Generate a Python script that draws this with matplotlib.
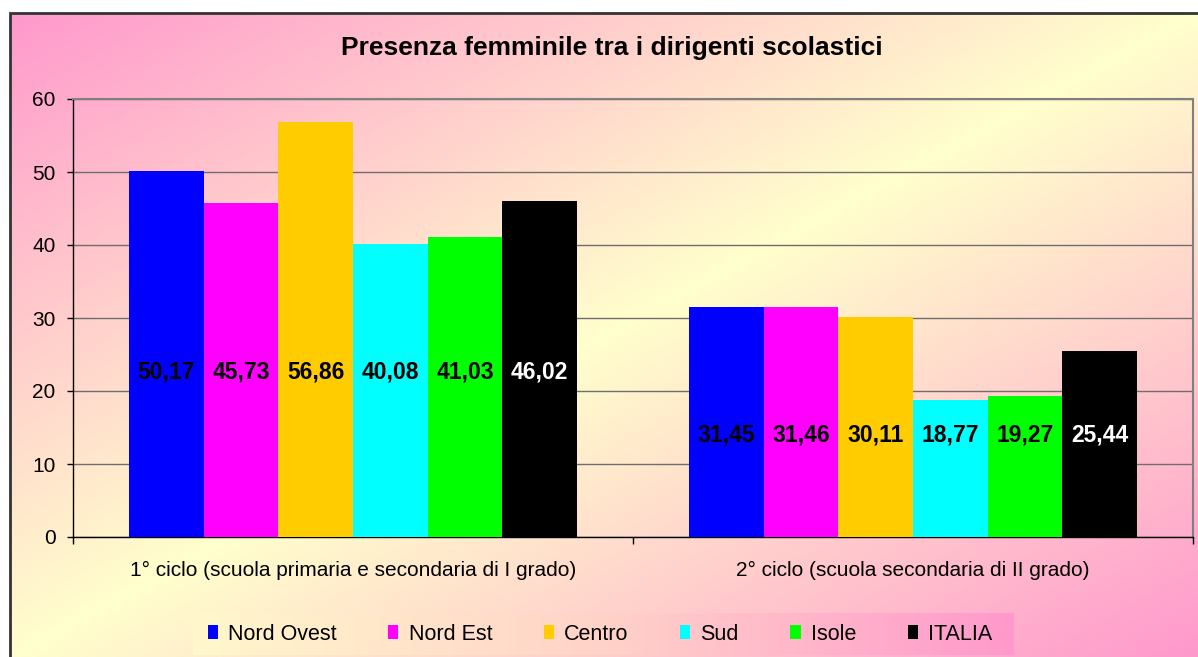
import numpy as np
import matplotlib

matplotlib.use("Agg")
import matplotlib.pyplot as plt
from matplotlib.colors import LinearSegmentedColormap
from matplotlib.patches import Rectangle

# data
categories = [
    "1° ciclo (scuola primaria e secondaria di I grado)",
    "2° ciclo (scuola secondaria di II grado)",
]
regions = ["Nord Ovest", "Nord Est", "Centro", "Sud", "Isole", "ITALIA"]
nord_ovest = [50.17, 31.45]
nord_est = [45.73, 31.46]
centro = [56.86, 30.11]
sud = [40.08, 18.77]
isole = [41.03, 19.27]
italia = [46.02, 25.44]
series = [nord_ovest, nord_est, centro, sud, isole, italia]
colors = ["#0000FF", "#FF00FF", "#FFCC00", "#00FFFF", "#00FF00", "#000000"]
label_colors = ["black", "black", "black", "black", "black", "white"]
yticks = [0, 10, 20, 30, 40, 50, 60]

W, H, DPI = 1198, 657, 100
PINK = "#FF99CC"
YELLOW = "#FFFFCC"

plt.rcParams["font.family"] = ["Liberation Sans", "DejaVu Sans"]

fig = plt.figure(figsize=(W / DPI, H / DPI), dpi=DPI)
fig.patch.set_facecolor("white")

# diagonal gradient background (pink -> yellow -> pink)
cmap = LinearSegmentedColormap.from_list("bg", [PINK, YELLOW, PINK])
bg = fig.add_axes([10 / W, 0, 1 - 10 / W, 1 - 13 / H], zorder=-10)
u = np.linspace(0, 1, 400)
v = np.linspace(0, 1, 300)
uu, vv = np.meshgrid(u, v)
bg.imshow((uu + vv) / 2, cmap=cmap, aspect="auto", extent=(0, 1, 0, 1),
          origin="upper", vmin=0, vmax=1)
bg.set_axis_off()
fig.add_artist(Rectangle((10 / W, -0.01), 1.0, 1 - 13 / H + 0.01,
                         transform=fig.transFigure, fill=False,
                         edgecolor="#333333", linewidth=2))

# legend background box
lx0, lx1, ly0, ly1 = 193, 1013, 613, 655
lbg = fig.add_axes([lx0 / W, 1 - ly1 / H, (lx1 - lx0) / W, (ly1 - ly0) / H],
                   zorder=-5)
lcmap = LinearSegmentedColormap.from_list("lg", ["#FFF8CC", "#FFD2C8", PINK])
lbg.imshow(np.linspace(0, 1, 300)[None, :], cmap=lcmap, aspect="auto",
           extent=(0, 1, 0, 1))
lbg.set_axis_off()

# main plot area
ax = fig.add_axes([73 / W, 1 - 537 / H, (1193 - 73) / W, (537 - 99) / H])
ax.set_facecolor("none")

n = len(series)
bar_w = 0.8 / n
label_height = [22.6, 14.0]
centers = np.arange(len(categories)) + 0.5
for i, (vals, col, lcol) in enumerate(zip(series, colors, label_colors)):
    xs = centers + (i - (n - 1) / 2) * bar_w
    ax.bar(xs, vals, width=bar_w, color=col, label=regions[i], zorder=3,
           linewidth=0)
    for x, val, ly in zip(xs, vals, label_height):
        ax.text(x, ly, f"{val:.2f}".replace(".", ","), ha="center",
                va="center", color=lcol, fontsize=16.5, fontweight="bold",
                zorder=4)

ax.set_xlim(0, len(categories))
ax.set_ylim(0, 60)
ax.set_yticks(yticks)
ax.set_yticklabels([str(t) for t in yticks], fontsize=15)
ax.yaxis.grid(True, color="#6E6E6E", linewidth=1)
ax.set_axisbelow(True)
ax.tick_params(axis="y", direction="out", length=4.5, width=1, pad=8,
               colors="black")

ax.set_xticks(np.arange(len(categories) + 1))
ax.set_xticklabels([])
ax.tick_params(axis="x", which="major", direction="out", length=5, width=1)
ax.set_xticks(centers, minor=True)
ax.set_xticklabels(categories, minor=True, fontsize=15)
ax.tick_params(axis="x", which="minor", length=0, pad=17)

for side in ("left", "bottom"):
    ax.spines[side].set_color("black")
    ax.spines[side].set_linewidth(1)
for side in ("top", "right"):
    ax.spines[side].set_color("#808080")
    ax.spines[side].set_linewidth(1.5)

fig.text(612 / W, 1 - 48 / H, "Presenza femminile tra i dirigenti scolastici",
         ha="center", va="center", fontsize=19, fontweight="bold")

handles, labels = ax.get_legend_handles_labels()
fig.legend(handles, labels, loc="center", bbox_to_anchor=(600 / W, 1 - 634 / H),
           ncol=n, frameon=False, fontsize=15.5, handlelength=0.47,
           handleheight=0.6, handletextpad=0.47, columnspacing=2.4)

fig.savefig("out.png", dpi=DPI)
